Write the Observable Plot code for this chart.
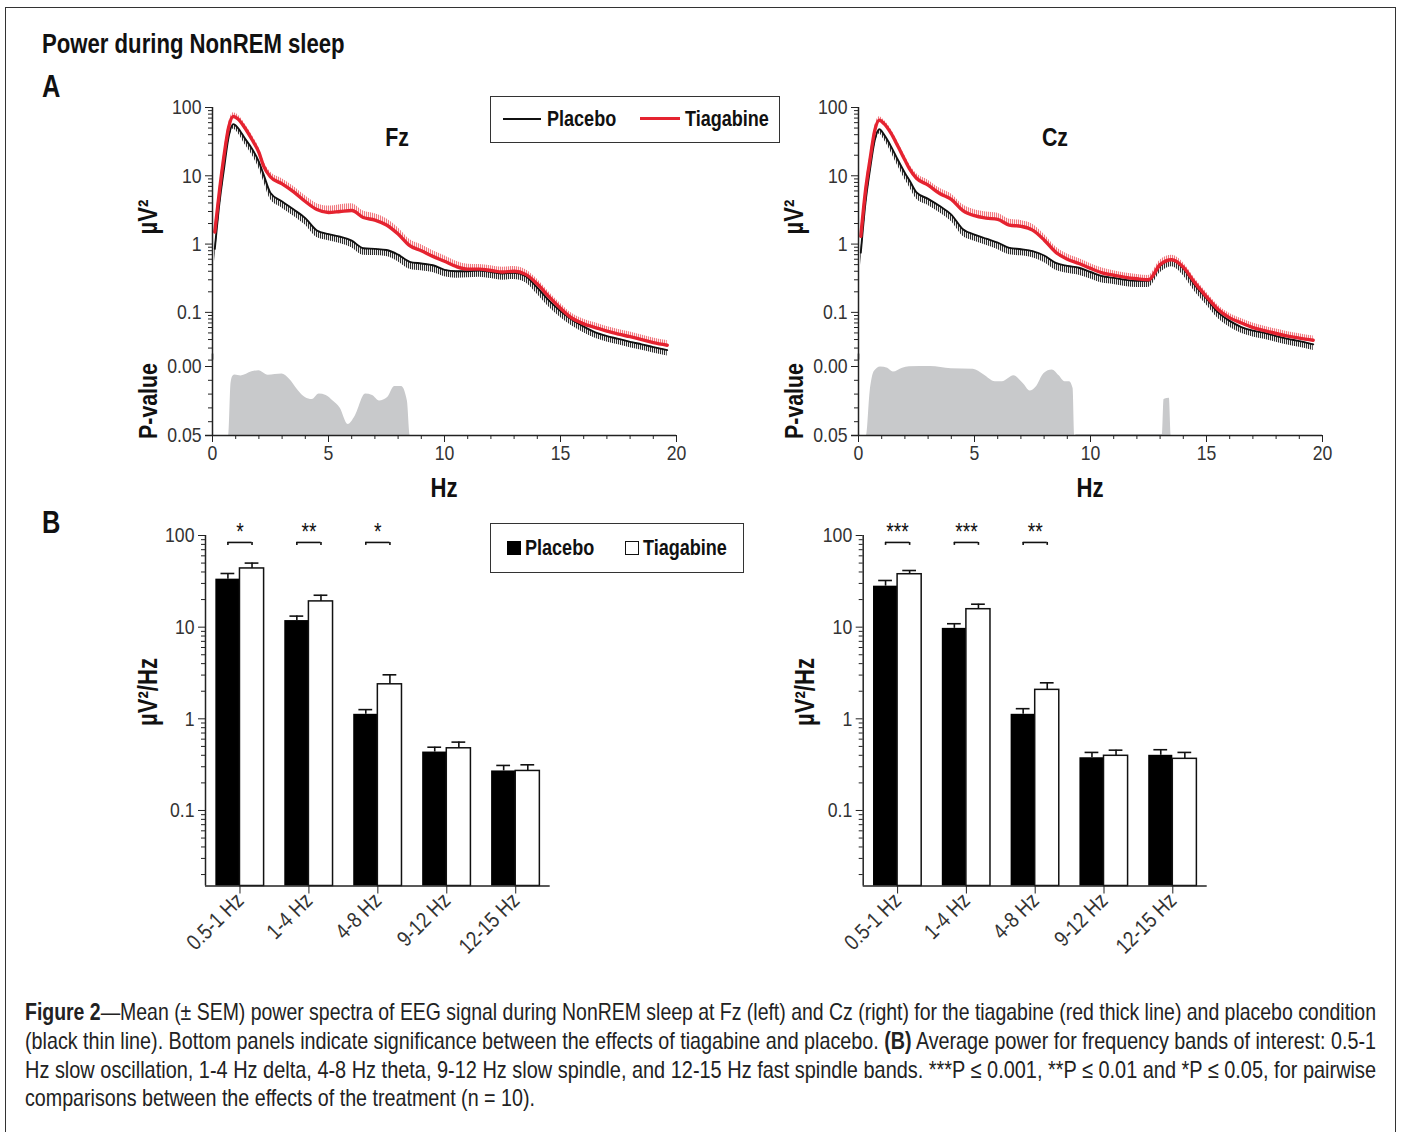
<!DOCTYPE html>
<html>
<head>
<meta charset="utf-8">
<script src="https://cdn.jsdelivr.net/npm/d3@7"></script>
<script src="https://cdn.jsdelivr.net/npm/@observablehq/plot@0.6"></script>
<style>
  body { margin: 0; background: #fff; }
  #fig { position: relative; width: 1401px; height: 1132px; overflow: hidden;
         font-family: "Liberation Sans", Arial, "DejaVu Sans", sans-serif; color: #111; }
  .frame { position: absolute; left: 5px; top: 7px; width: 1389px; height: 1160px; border: 1.5px solid #333; }
  .abs { position: absolute; white-space: nowrap; line-height: 1; }
  .b { font-weight: bold; }
  .lc { transform: translateY(-50%) scaleX(0.82); transform-origin: left center; }
  .cc { transform: translate(-50%, -50%) scaleX(0.82); }
  .rot { transform: translate(-50%, -50%) rotate(-90deg) scaleX(0.82); }
  .legend { position: absolute; border: 1.5px solid #333; background: #fff; box-sizing: border-box; }
  .cap { position: absolute; left: 25px; font-size: 24px; line-height: 1; color: #222; white-space: nowrap; transform-origin: left center; }
</style>
</head>
<body>
<svg width="0" height="0" style="position:absolute">
  <defs>
    <pattern id="hatchK" patternUnits="userSpaceOnUse" width="2" height="6">
      <line x1="0.6" y1="0" x2="0.6" y2="6" stroke="#1a1a1a" stroke-width="1"/>
    </pattern>
    <pattern id="hatchR" patternUnits="userSpaceOnUse" width="2" height="6">
      <line x1="0.6" y1="0" x2="0.6" y2="6" stroke="#ef6a72" stroke-width="1"/>
    </pattern>
  </defs>
</svg>
<div id="fig">
  <div class="frame"></div>
  <div class="abs b lc" style="left:42px;top:44px;font-size:27px;">Power during NonREM sleep</div>
  <div class="abs b lc" style="left:42px;top:86px;font-size:31px;">A</div>
  <div class="abs b lc" style="left:42px;top:522px;font-size:31px;">B</div>
  <div class="abs b cc" style="left:397px;top:137px;font-size:26px;">Fz</div>
  <div class="abs b cc" style="left:1055px;top:137px;font-size:26px;">Cz</div>
  <div class="abs b cc" style="left:444px;top:488px;font-size:27px;">Hz</div>
  <div class="abs b cc" style="left:1090px;top:488px;font-size:27px;">Hz</div>
  <div class="abs b rot" style="left:148px;top:217px;font-size:27px;">µV²</div>
  <div class="abs b rot" style="left:794px;top:217px;font-size:27px;">µV²</div>
  <div class="abs b rot" style="left:148px;top:401px;font-size:26px;">P-value</div>
  <div class="abs b rot" style="left:794px;top:401px;font-size:26px;">P-value</div>
  <div class="abs b rot" style="left:148px;top:692px;font-size:27px;">µV²/Hz</div>
  <div class="abs b rot" style="left:805px;top:692px;font-size:27px;">µV²/Hz</div>

  <div id="plots"></div>

  <div class="legend" style="left:490px;top:96px;width:290px;height:47px;">
    <div class="abs" style="left:12px;top:21px;width:38px;height:1.8px;background:#111;"></div>
    <div class="abs b lc" style="left:56px;top:22px;font-size:22px;">Placebo</div>
    <div class="abs" style="left:149px;top:20px;width:40px;height:3.4px;background:#e52330;"></div>
    <div class="abs b lc" style="left:194px;top:22px;font-size:22px;">Tiagabine</div>
  </div>
  <div class="legend" style="left:490px;top:523px;width:254px;height:50px;">
    <div class="abs" style="left:16px;top:17px;width:14px;height:14px;background:#000;"></div>
    <div class="abs b lc" style="left:34px;top:24px;font-size:22px;">Placebo</div>
    <div class="abs" style="left:134px;top:17px;width:14px;height:14px;background:#fff;border:1.3px solid #111;box-sizing:border-box;"></div>
    <div class="abs b lc" style="left:152px;top:24px;font-size:22px;">Tiagabine</div>
  </div>

  <div class="cap" data-w="1351" style="top:1001px;"><b>Figure 2</b>—Mean (± SEM) power spectra of EEG signal during NonREM sleep at Fz (left) and Cz (right) for the tiagabine (red thick line) and placebo condition</div>
  <div class="cap" data-w="1351" style="top:1030px;">(black thin line). Bottom panels indicate significance between the effects of tiagabine and placebo. <b>(B)</b> Average power for frequency bands of interest: 0.5-1</div>
  <div class="cap" data-w="1351" style="top:1059px;">Hz slow oscillation, 1-4 Hz delta, 4-8 Hz theta, 9-12 Hz slow spindle, and 12-15 Hz fast spindle bands. ***P ≤ 0.001, **P ≤ 0.01 and *P ≤ 0.05, for pairwise</div>
  <div class="cap" data-w="0" style="top:1087px;">comparisons between the effects of the treatment (n = 10).</div>
</div>

<script>
// ---------------- DATA ----------------
// Spectra (µV²) at frequency grid (Hz)
const freq = [0.1,0.3,0.5,0.7,0.9,1.1,1.4,1.7,2.0,2.2,2.5,3.0,3.5,4.0,4.5,5.0,5.5,6.0,6.5,7.0,7.5,8.0,8.5,9.0,9.5,10.0,10.5,11.0,11.5,12.0,12.5,13.0,13.5,14.0,14.5,15.0,15.5,16.0,16.5,17.0,17.5,18.0,18.5,19.0,19.6];

const fzPlacebo   = [0.85,4,13,38,57,50,35,25,16,10.5,5.6,4.2,3.2,2.4,1.58,1.4,1.28,1.12,0.87,0.85,0.82,0.7,0.55,0.52,0.49,0.42,0.40,0.40,0.41,0.39,0.37,0.38,0.34,0.23,0.15,0.105,0.078,0.062,0.051,0.045,0.041,0.037,0.034,0.031,0.028];
const fzTiagabine = [1.5,6,20,52,74,68,50,34,22,14,9.6,7.6,5.8,4.2,3.2,2.9,3.0,3.1,2.45,2.25,1.9,1.4,0.95,0.8,0.66,0.56,0.47,0.43,0.43,0.41,0.39,0.40,0.36,0.26,0.17,0.115,0.082,0.068,0.06,0.053,0.048,0.044,0.04,0.036,0.033];
const czPlacebo   = [0.75,4,12.6,33,48,40,27,17,11,8.5,5.7,4.6,3.6,2.7,1.65,1.38,1.2,1.05,0.88,0.84,0.79,0.68,0.53,0.48,0.45,0.39,0.34,0.32,0.30,0.29,0.29,0.48,0.59,0.44,0.25,0.16,0.10,0.075,0.061,0.054,0.05,0.045,0.041,0.038,0.034];
const czTiagabine = [1.3,6,17.6,46,65,58,42,27,17,12.6,9.2,7.3,5.5,4.5,3.1,2.6,2.4,2.3,1.9,1.82,1.6,1.15,0.76,0.6,0.52,0.44,0.38,0.35,0.325,0.31,0.3,0.5,0.59,0.46,0.27,0.17,0.11,0.083,0.07,0.06,0.054,0.049,0.045,0.042,0.039];

// Relative SEM (fraction of mean) for the hatched error bands
const fzPlaceboSem   = [0.35,0.28,0.2,0.17,0.15,0.16,0.18,0.19,0.2,0.21,0.2,0.2,0.2,0.21,0.21,0.2,0.2,0.21,0.21,0.2,0.2,0.21,0.22,0.22,0.22,0.21,0.21,0.2,0.2,0.2,0.2,0.2,0.2,0.2,0.2,0.2,0.19,0.19,0.18,0.18,0.18,0.18,0.18,0.18,0.18];
const fzTiagabineSem = [0.25,0.2,0.16,0.14,0.13,0.14,0.15,0.16,0.17,0.18,0.18,0.19,0.2,0.21,0.22,0.24,0.26,0.26,0.25,0.24,0.24,0.24,0.23,0.22,0.21,0.2,0.19,0.18,0.17,0.17,0.17,0.17,0.17,0.17,0.17,0.17,0.17,0.17,0.17,0.17,0.17,0.17,0.17,0.17,0.17];
const czPlaceboSem   = [0.35,0.28,0.2,0.17,0.15,0.16,0.18,0.19,0.2,0.2,0.2,0.2,0.2,0.21,0.21,0.2,0.2,0.21,0.21,0.2,0.2,0.21,0.22,0.22,0.22,0.21,0.21,0.2,0.2,0.2,0.2,0.21,0.21,0.21,0.2,0.2,0.19,0.19,0.19,0.19,0.19,0.19,0.19,0.19,0.19];
const czTiagabineSem = [0.22,0.19,0.16,0.14,0.13,0.13,0.14,0.15,0.16,0.16,0.17,0.18,0.19,0.2,0.21,0.22,0.23,0.23,0.22,0.22,0.22,0.21,0.2,0.19,0.18,0.17,0.17,0.16,0.16,0.16,0.16,0.16,0.16,0.16,0.16,0.16,0.16,0.16,0.16,0.16,0.16,0.16,0.16,0.16,0.16];

// P-values (clipped at 0.05)
const pFzFreq = [0,0.7,0.8,0.88,0.97,1.23,1.7,2.0,2.4,3.0,3.3,3.7,4.0,4.3,4.6,4.9,5.2,5.5,5.85,6.15,6.6,6.9,7.2,7.55,7.85,8.15,8.4,8.52,8.6,20];
const pFz     = [0.05,0.05,0.012,0.007,0.0062,0.0068,0.0038,0.003,0.0063,0.0055,0.0088,0.0175,0.0225,0.024,0.02,0.021,0.025,0.03,0.042,0.036,0.02,0.021,0.025,0.0225,0.0145,0.0145,0.025,0.05,0.05,0.05];
const pCzFreq = [0,0.34,0.5,0.68,0.95,1.26,1.5,1.9,2.2,3.1,4.0,4.95,5.4,5.9,6.2,6.7,7.1,7.4,7.65,8.0,8.35,8.65,8.9,9.1,9.25,9.32,9.4,13.1,13.17,13.4,13.48,13.55,20];
const pCz     = [0.05,0.05,0.0186,0.0037,0.0003,0.0012,0.004,0.0012,0.0002,0,0.0017,0.002,0.006,0.011,0.011,0.0067,0.0124,0.0178,0.015,0.005,0.0025,0.0067,0.011,0.011,0.016,0.05,0.0493,0.0493,0.024,0.023,0.05,0.05,0.05];

// Band averages (µV²/Hz) and SEM
const bands = ["0.5-1 Hz","1-4 Hz","4-8 Hz","9-12 Hz","12-15 Hz"];
const fzBarPlacebo      = [33.4,11.8,1.12,0.434,0.27];
const fzBarPlaceboSem   = [5.1,1.4,0.14,0.056,0.04];
const fzBarTiagabine    = [43.7,19.1,2.38,0.477,0.27];
const fzBarTiagabineSem = [6.3,3.2,0.64,0.08,0.045];
const czBarPlacebo      = [28,9.7,1.12,0.376,0.40];
const czBarPlaceboSem   = [4.3,1.2,0.17,0.054,0.06];
const czBarTiagabine    = [37.8,15.7,2.07,0.395,0.366];
const czBarTiagabineSem = [3.7,2.1,0.4,0.06,0.064];
const fzSig = ["*","**","*","",""];
const czSig = ["***","***","**","",""];

// Tick labels
const logTicks = [0.1,1,10,100];
const logTickLabels = ["0.1","1","10","100"];
const pTicks = [0,0.05];
const pTickLabels = ["0.00","0.05"];
const pMinorTicks = [0.01,0.02,0.03,0.04];
const hzTicks = [0,5,10,15,20];
const hzTickLabels = ["0","5","10","15","20"];

// ---------------- STYLE ----------------
const FONT = '"Liberation Sans", Arial, "DejaVu Sans", sans-serif';
const RED = "#e52330";
const GRAY = "#c8c9cb";
const AX = "#222";
const baseStyle = {fontFamily: FONT, fontSize: "21px", color: "#333", background: "transparent", overflow: "visible"};
const labelOf = (vals, labels) => { const m = new Map(vals.map((v, i) => [v, labels[i]])); return d => m.get(d) ?? ""; };
const minorLog = (lo, hi) => d3.scaleLog().domain([lo, hi]).ticks().filter(t => Math.abs(Math.log10(t) - Math.round(Math.log10(t))) > 1e-6);
const hzMinor = d3.range(0, 21).filter(h => h % 5 !== 0);

function spectrum(pl, tg, plSem, tgSem, ml, mr) {
  const rows = freq.map((f, i) => ({f, pl: pl[i], plLow: pl[i] * (1 - plSem[i]), tg: tg[i], tgHigh: tg[i] * (1 + tgSem[i])}));
  return Plot.plot({
    width: 560, height: 290, marginLeft: ml, marginRight: mr, marginTop: 17, marginBottom: 20.4,
    style: baseStyle,
    x: {domain: [0, 20], axis: null},
    y: {type: "log", domain: [0.02, 100], axis: null},
    marks: [
      Plot.areaY(rows, {x: "f", y1: "plLow", y2: "pl", fill: "url(#hatchK)", curve: "monotone-x"}),
      Plot.areaY(rows, {x: "f", y1: "tg", y2: "tgHigh", fill: "url(#hatchR)", curve: "monotone-x"}),
      Plot.lineY(rows, {x: "f", y: "pl", stroke: "#111", strokeWidth: 1.9, curve: "monotone-x"}),
      Plot.lineY(rows, {x: "f", y: "tg", stroke: RED, strokeWidth: 3.4, curve: "monotone-x"}),
      Plot.ruleX([0], {y1: 0.02, y2: 100, stroke: AX, strokeWidth: 1.5}),
      Plot.axisY({ticks: logTicks, tickSize: 7, tickPadding: 4, tickFormat: labelOf(logTicks, logTickLabels), label: null, stroke: AX}),
      Plot.axisY({ticks: minorLog(0.02, 100), tickSize: 4, tickFormat: () => "", label: null, stroke: AX})
    ]
  });
}

function pvalue(f, p, ml, mr) {
  const rows = f.map((x, i) => ({f: x, p: p[i]}));
  return Plot.plot({
    width: 560, height: 150, marginLeft: ml, marginRight: mr, marginTop: 16, marginBottom: 65,
    style: baseStyle,
    x: {domain: [0, 20], axis: null},
    y: {domain: [0, 0.05], reverse: true, axis: null},
    marks: [
      Plot.areaY(rows, {x: "f", y1: 0.05, y2: "p", fill: GRAY, curve: "monotone-x"}),
      Plot.ruleX([0], {y1: -0.009, y2: 0.05, stroke: AX, strokeWidth: 1.5}),
      Plot.ruleY([0.05], {x1: -0.3, x2: 20, stroke: AX, strokeWidth: 1.5}),
      Plot.axisY({ticks: pTicks, tickSize: 7, tickPadding: 4, tickFormat: labelOf(pTicks, pTickLabels), label: null, stroke: AX}),
      Plot.axisY({ticks: pMinorTicks, tickSize: 4, tickFormat: () => "", label: null, stroke: AX}),
      Plot.axisX({ticks: hzTicks, tickSize: 7, tickPadding: 3, tickFormat: labelOf(hzTicks, hzTickLabels), label: null, stroke: AX}),
      Plot.axisX({ticks: hzMinor, tickSize: 4, tickFormat: () => "", label: null, stroke: AX})
    ]
  });
}

function bars(pl, plSem, tg, tgSem, sig, ml, mr) {
  const rows = bands.map((b, i) => ({i, b, pl: pl[i], plTop: pl[i] + plSem[i], tg: tg[i], tgTop: tg[i] + tgSem[i], sig: sig[i]}));
  const sigRows = rows.filter(d => d.sig);
  const W = 0.35, C = 0.175, CAP = 0.1, BR = 84, BRT = 78, STAR = 108, LO = 0.015;
  return Plot.plot({
    width: 440, height: 470, marginLeft: ml, marginRight: mr, marginTop: 35, marginBottom: 84.5,
    style: baseStyle,
    x: {domain: [-0.5, 4.5], axis: null},
    y: {type: "log", domain: [LO, 100], axis: null},
    marks: [
      Plot.rect(rows, {x1: d => d.i - W, x2: d => d.i, y1: LO, y2: "pl", fill: "#000"}),
      Plot.rect(rows, {x1: d => d.i, x2: d => d.i + W, y1: LO, y2: "tg", fill: "#fff", stroke: "#111", strokeWidth: 1.5}),
      Plot.ruleX(rows, {x: d => d.i - C, y1: "pl", y2: "plTop", stroke: "#111", strokeWidth: 1.6}),
      Plot.ruleY(rows, {y: "plTop", x1: d => d.i - C - CAP, x2: d => d.i - C + CAP, stroke: "#111", strokeWidth: 1.6}),
      Plot.ruleX(rows, {x: d => d.i + C, y1: "tg", y2: "tgTop", stroke: "#111", strokeWidth: 1.6}),
      Plot.ruleY(rows, {y: "tgTop", x1: d => d.i + C - CAP, x2: d => d.i + C + CAP, stroke: "#111", strokeWidth: 1.6}),
      Plot.ruleY(sigRows, {y: BR, x1: d => d.i - C, x2: d => d.i + C, stroke: "#111", strokeWidth: 1.6}),
      Plot.ruleX(sigRows, {x: d => d.i - C, y1: BRT, y2: BR, stroke: "#111", strokeWidth: 1.6}),
      Plot.ruleX(sigRows, {x: d => d.i + C, y1: BRT, y2: BR, stroke: "#111", strokeWidth: 1.6}),
      Plot.text(sigRows, {x: "i", y: STAR, text: "sig", fontSize: 23, fill: "#111"}),
      Plot.ruleX([-0.5], {y1: LO, y2: 100, stroke: AX, strokeWidth: 1.5}),
      Plot.ruleY([LO], {x1: -0.5, x2: 4.5, stroke: AX, strokeWidth: 1.5}),
      Plot.axisY({ticks: logTicks, tickSize: 7, tickPadding: 4, tickFormat: labelOf(logTicks, logTickLabels), label: null, stroke: AX}),
      Plot.axisY({ticks: minorLog(LO, 100), tickSize: 4, tickFormat: () => "", label: null, stroke: AX}),
      Plot.axisX({ticks: [0, 1, 2, 3, 4], tickSize: 8, tickPadding: 3, tickRotate: -45, tickFormat: i => bands[i], label: null, stroke: AX, fontSize: 22})
    ]
  });
}

// Narrow (condensed) look for SVG text, like the reference's narrow typeface
function narrow(svg, k) {
  svg.querySelectorAll("text").forEach(t => {
    if (!t.textContent) return;
    const w = t.getComputedTextLength();
    if (w > 0) { t.setAttribute("textLength", (w * k).toFixed(2)); t.setAttribute("lengthAdjust", "spacingAndGlyphs"); }
  });
}

const holder = document.getElementById("plots");
function place(svg, left, top) {
  svg.style.position = "absolute";
  svg.style.left = left + "px";
  svg.style.top = top + "px";
  holder.appendChild(svg);
  narrow(svg, 0.84);
}
place(spectrum(fzPlacebo, fzTiagabine, fzPlaceboSem, fzTiagabineSem, 82, 14), 130, 90);
place(spectrum(czPlacebo, czTiagabine, czPlaceboSem, czTiagabineSem, 78, 18), 780, 90);
place(pvalue(pFzFreq, pFz, 82, 14), 130, 350);
place(pvalue(pCzFreq, pCz, 78, 18), 780, 350);
place(bars(fzBarPlacebo, fzBarPlaceboSem, fzBarTiagabine, fzBarTiagabineSem, fzSig, 75, 20.3), 130, 500);
place(bars(czBarPlacebo, czBarPlaceboSem, czBarTiagabine, czBarTiagabineSem, czSig, 82.7, 13.3), 780, 500);

// Caption lines: justified full-width lines use the narrow face fitted to the column
document.querySelectorAll(".cap").forEach(el => {
  const target = +el.dataset.w;
  const w = el.getBoundingClientRect().width;
  const s = target ? target / w : 0.82;
  el.style.transform = `translateY(-50%) scaleX(${s})`;
  el.style.top = (parseFloat(el.style.top) + 11) + "px";
});
</script>
</body>
</html>
